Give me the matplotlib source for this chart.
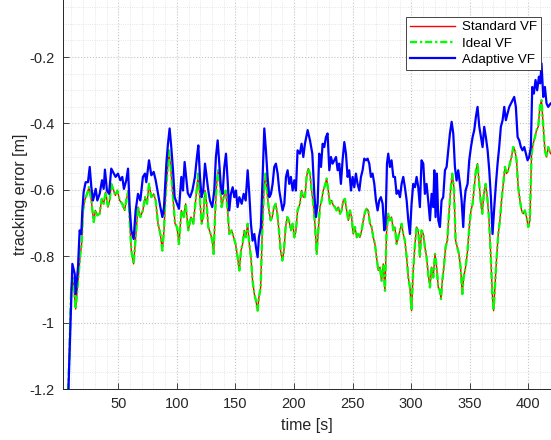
import numpy as np
import matplotlib
matplotlib.use('Agg')
import matplotlib.pyplot as plt
from matplotlib.ticker import MultipleLocator

plt.rcParams['font.family'] = ['Liberation Sans', 'DejaVu Sans']

# Adaptive VF (blue)
t_adaptive = [7, 10.8, 12.8, 13.6, 15.6, 17.0, 18.4, 19.3, 20.4, 22.1,
              24.1, 25.6, 27.0, 28.4, 30.7, 32.1, 34.1, 36.1, 37.5, 38.6,
              40.3, 42.1, 44.0, 45.5, 47.7, 49.7, 51.7, 53.4, 54.8, 56.8,
              58.3, 59.7, 61.1, 63.1, 64.8, 66.8, 68.8, 71.0, 72.8, 73.9,
              76.2, 78.2, 80.2, 81.9, 83.9, 85.9, 87.6, 89.0, 91.0, 92.4,
              93.8, 95.2, 96.7, 98.1, 100.1, 101.8, 103.8, 105.2, 106.6, 109.3,
              111.2, 113.2, 115.4, 117.1, 118.3, 119.7, 121.1, 122.5, 124.0, 125.4,
              126.8, 128.2, 130.2, 131.9, 133.3, 134.8, 136.2, 137.6, 139.0, 140.5,
              141.9, 143.3, 144.7, 146.1, 147.6, 149.0, 150.4, 151.8, 153.3, 155.3,
              157.0, 158.7, 160.4, 161.8, 163.2, 164.6, 166.1, 167.5, 168.9, 170.0,
              171.7, 173.2, 174.6, 176.0, 177.4, 178.9, 180.3, 181.7, 183.1, 184.5,
              186.0, 187.4, 188.8, 190.2, 191.7, 193.1, 194.5, 195.9, 197.3, 198.8,
              200.2, 201.6, 203.0, 205.0, 206.4, 207.9,
              209.3, 211.6, 213.6, 215.6, 217.3, 218.7, 220.1, 221.5, 223.0, 224.4,
              225.8, 227.2, 228.6, 230.1, 231.5, 232.9, 234.3, 235.8, 237.2, 238.6,
              240.0, 241.4, 242.9, 244.3, 245.7, 247.1, 248.6, 250.0, 251.4, 252.8,
              254.2, 255.7, 257.1, 258.5, 259.9, 261.4, 262.8, 264.2, 265.6, 267.0,
              268.5, 269.9, 271.3, 272.7, 274.1, 275.6, 277.0, 278.1, 279.3, 280.4,
              281.8, 283.2, 284.7, 286.1, 287.5, 288.9, 290.4, 291.8, 293.2, 294.6,
              296.1, 297.5, 298.9, 300.3, 301.7, 303.2, 304.6, 306.0, 307.4, 308.8,
              310.3,
              311.7, 313.1, 314.5, 316.0, 317.4, 318.8, 319.7, 320.8, 321.9, 323.1,
              324.5, 325.9, 327.3, 328.8, 330.2, 331.6, 333.0, 334.5, 335.9, 337.3,
              338.7, 340.1, 341.6, 343.0, 344.4, 345.3, 346.4, 348.1, 349.5, 351.0,
              352.4, 353.8, 355.2, 356.6, 358.1, 359.5, 360.9, 362.3, 363.7, 365.2,
              366.6, 368.0, 369.4, 370.9, 372.3, 373.7, 375.1, 376.5, 378.0, 379.4,
              380.8, 382.2, 383.7, 385.1, 386.5, 387.9, 389.3, 390.8, 392.2, 393.6,
              395.0, 396.5, 397.9, 399.3, 400.7, 402.1, 403.3, 404.7, 406.1, 407.5,
              409.0, 410.1, 411.2, 412.7, 414.1, 415.5, 416.9, 418.9]
adaptive_vf = [-1.25, -0.823, -0.853, -0.914, -0.833, -0.722, -0.733, -0.662, -0.607, -0.577,
               -0.577, -0.531, -0.592, -0.632, -0.597, -0.632, -0.612, -0.571, -0.597, -0.539,
               -0.602, -0.612, -0.536, -0.546, -0.561, -0.551, -0.571, -0.561, -0.597, -0.571,
               -0.536, -0.652, -0.722, -0.748, -0.662, -0.612, -0.632, -0.561, -0.551, -0.577,
               -0.511, -0.556, -0.546, -0.571, -0.612, -0.652, -0.682, -0.652, -0.521, -0.461,
               -0.415, -0.471, -0.541, -0.622, -0.642, -0.657, -0.561, -0.602, -0.516, -0.61,
               -0.622, -0.602, -0.561, -0.501, -0.466, -0.561, -0.622, -0.602, -0.521, -0.561,
               -0.602, -0.632, -0.652, -0.602, -0.501, -0.451, -0.521, -0.592, -0.612, -0.531,
               -0.491, -0.571, -0.662, -0.612, -0.592, -0.622, -0.602, -0.652, -0.622, -0.642,
               -0.612, -0.632, -0.541, -0.612, -0.702, -0.753, -0.733, -0.773, -0.803, -0.743,
               -0.712, -0.561, -0.415, -0.481, -0.561, -0.622, -0.612, -0.582, -0.531, -0.521,
               -0.551, -0.602, -0.632, -0.662, -0.642, -0.561, -0.541, -0.582, -0.561, -0.602,
               -0.571, -0.602, -0.481, -0.491, -0.461, -0.501,
               -0.461, -0.420, -0.451, -0.491, -0.612, -0.682, -0.642, -0.491, -0.531, -0.461,
               -0.471, -0.441, -0.430, -0.541, -0.501, -0.521, -0.511, -0.501, -0.541, -0.521,
               -0.582, -0.511, -0.456, -0.491, -0.561, -0.541, -0.602, -0.561, -0.592, -0.551,
               -0.582, -0.602, -0.561, -0.541, -0.506, -0.511, -0.506, -0.521, -0.561, -0.551,
               -0.582, -0.632, -0.662, -0.632, -0.622, -0.642, -0.722, -0.702, -0.521, -0.491,
               -0.531, -0.511, -0.561, -0.561, -0.612, -0.602, -0.622, -0.582, -0.561, -0.592,
               -0.632, -0.692, -0.733, -0.642, -0.582, -0.592, -0.561, -0.592, -0.652, -0.511,
               -0.521,
               -0.612, -0.582, -0.632, -0.692, -0.612, -0.652, -0.541, -0.682, -0.551, -0.692,
               -0.712, -0.632, -0.622, -0.541, -0.531, -0.481, -0.431, -0.395, -0.431, -0.531,
               -0.572, -0.541, -0.582, -0.632, -0.712, -0.642, -0.602, -0.582, -0.511, -0.471,
               -0.441, -0.420, -0.380, -0.350, -0.410, -0.441, -0.471, -0.410, -0.441, -0.481,
               -0.541, -0.622, -0.733, -0.652, -0.582, -0.521, -0.471, -0.410, -0.390, -0.350,
               -0.390, -0.370, -0.350, -0.340, -0.330, -0.320, -0.350, -0.441, -0.451, -0.471,
               -0.481, -0.471, -0.491, -0.511, -0.501, -0.471, -0.290, -0.310, -0.269, -0.300,
               -0.259, -0.279, -0.219, -0.320, -0.290, -0.340, -0.350, -0.340]

# Standard VF (red) and Ideal VF (green) lie on top of each other
t_standard = [7, 9.8, 11.3, 13.6, 15.6, 17.6, 18.7, 19.9, 21.3, 23.3,
              25.0, 27.0, 29.0, 30.4, 32.1, 34.1, 35.8, 37.5, 39.2, 41.2,
              42.6, 44.0, 45.5, 47.5, 49.2, 51.2, 53.4, 55.4, 56.8, 58.5,
              59.7, 61.1, 63.1, 64.8, 66.8, 68.8, 71.0, 72.8, 74.5, 76.2,
              78.2, 80.2, 81.9, 83.9, 85.9, 87.6, 89.0, 90.4, 91.8, 93.2,
              94.7, 96.7, 98.4, 100.1, 101.8, 103.8, 105.8, 107.5,
              109.7, 112.0, 114.0, 115.4, 117.1, 118.3, 119.7, 121.1, 122.5, 124.0,
              125.4, 126.8, 128.8, 130.2, 131.4, 132.5, 133.9, 135.3, 136.8, 138.2,
              139.9, 141.6, 143.3, 144.7, 146.7, 148.4, 150.1, 151.8, 153.3, 154.7,
              156.1, 157.5, 158.9, 160.4, 161.8, 163.2, 164.6, 166.1, 167.5, 168.9,
              170.0, 171.5, 172.9, 174.3, 175.7, 177.1, 178.6, 180.0, 181.4, 182.8,
              184.3, 185.7, 187.1, 188.5, 190.0, 191.4, 192.8, 194.2, 195.6, 197.3,
              198.8, 200.2, 201.6, 203.0, 205.0, 206.4, 207.9,
              209.3, 210.7, 212.1, 213.6, 215.0, 216.4, 217.8, 219.3, 220.7, 222.1,
              223.5, 224.9, 226.4, 227.8, 229.2, 230.6, 232.0, 233.5, 234.9, 236.3,
              237.7, 239.2, 240.6, 242.0, 243.4, 244.9, 246.3, 247.7, 249.1, 250.5,
              252.0, 253.4, 254.8, 256.2, 257.7, 259.1, 260.5, 261.9, 263.3, 264.8,
              266.2, 267.6, 269.0, 270.4, 271.9, 273.3, 274.7, 276.1, 277.6, 279.0,
              280.4, 281.8, 283.2, 284.7, 286.1, 287.5, 288.9, 290.4, 291.8, 293.2,
              294.6, 296.1, 297.5, 298.9, 300.3, 301.7, 303.2, 304.6, 306.0, 307.4,
              308.8, 310.3,
              311.7, 313.1, 314.5, 316.0, 317.4, 318.8, 320.3, 321.7, 323.1, 324.5,
              325.4, 326.5, 327.9, 329.3, 330.8, 332.2, 333.6, 335.0, 336.4, 337.9,
              339.3, 340.7, 342.1, 343.6, 344.7, 346.4, 348.1, 349.5, 351.0, 352.4,
              353.8, 355.2, 356.6, 357.8, 359.2, 360.6, 362.0, 363.5, 364.9, 366.3,
              367.7, 369.2, 370.3, 371.4, 372.9, 374.3, 375.7, 377.1, 378.5, 380.0,
              381.4, 382.8, 384.2, 385.6, 387.1, 388.5, 389.9, 391.3, 392.8, 394.2,
              395.6, 397.0, 398.4, 399.9, 401.3, 402.7, 404.1, 405.6, 407.0, 408.4,
              409.8, 411.2, 412.7, 414.1, 415.5, 416.9, 418.9]
standard_vf = [-1.25, -0.894, -0.864, -0.959, -0.874, -0.793, -0.763, -0.662, -0.632, -0.612,
               -0.592, -0.632, -0.697, -0.662, -0.677, -0.672, -0.627, -0.642, -0.607, -0.652,
               -0.632, -0.582, -0.597, -0.617, -0.602, -0.632, -0.642, -0.662, -0.632, -0.602,
               -0.692, -0.783, -0.823, -0.743, -0.652, -0.682, -0.662, -0.622, -0.642, -0.582,
               -0.622, -0.612, -0.632, -0.702, -0.733, -0.783, -0.722, -0.612, -0.551, -0.481,
               -0.531, -0.622, -0.702, -0.712, -0.763, -0.662, -0.682, -0.642,
               -0.722, -0.682, -0.702, -0.652, -0.592, -0.551, -0.632, -0.702, -0.682, -0.602,
               -0.642, -0.712, -0.733, -0.753, -0.793, -0.682, -0.582, -0.541, -0.582, -0.652,
               -0.622, -0.602, -0.662, -0.733, -0.722, -0.743, -0.763, -0.803, -0.843, -0.783,
               -0.763, -0.722, -0.743, -0.702, -0.763, -0.803, -0.874, -0.914, -0.934, -0.964,
               -0.924, -0.894, -0.722, -0.602, -0.551, -0.612, -0.662, -0.692, -0.682, -0.652,
               -0.642, -0.672, -0.722, -0.783, -0.813, -0.783, -0.712, -0.682, -0.692, -0.722,
               -0.702, -0.743, -0.722, -0.662, -0.642, -0.602, -0.622,
               -0.622, -0.561, -0.536, -0.551, -0.602, -0.642, -0.702, -0.793, -0.722, -0.652,
               -0.632, -0.602, -0.587, -0.566, -0.602, -0.642, -0.632, -0.647, -0.652, -0.662,
               -0.652, -0.672, -0.662, -0.632, -0.627, -0.662, -0.692, -0.662, -0.682, -0.733,
               -0.712, -0.743, -0.733, -0.743, -0.722, -0.692, -0.667, -0.657, -0.662, -0.702,
               -0.712, -0.743, -0.763, -0.803, -0.843, -0.833, -0.874, -0.823, -0.904, -0.722,
               -0.672, -0.692, -0.682, -0.722, -0.712, -0.763, -0.743, -0.722, -0.702, -0.733,
               -0.753, -0.803, -0.864, -0.894, -0.964, -0.843, -0.763, -0.712, -0.722, -0.803,
               -0.722, -0.733,
               -0.773, -0.803, -0.853, -0.894, -0.833, -0.864, -0.793, -0.833, -0.894, -0.904,
               -0.929, -0.874, -0.833, -0.773, -0.753, -0.672, -0.602, -0.551, -0.592, -0.753,
               -0.773, -0.793, -0.833, -0.914, -0.864, -0.833, -0.783, -0.712, -0.662, -0.642,
               -0.592, -0.541, -0.521, -0.572, -0.632, -0.672, -0.612, -0.582, -0.622, -0.682,
               -0.783, -0.914, -0.964, -0.894, -0.803, -0.733, -0.692, -0.632, -0.582, -0.531,
               -0.551, -0.541, -0.521, -0.501, -0.471, -0.481, -0.511, -0.592, -0.632, -0.662,
               -0.672, -0.662, -0.682, -0.712, -0.692, -0.491, -0.461, -0.441, -0.420, -0.410,
               -0.350, -0.330, -0.410, -0.481, -0.501, -0.471, -0.491]
ideal_vf = standard_vf

x_ticks = [50, 100, 150, 200, 250, 300, 350, 400]
y_ticks = [-1.2, -1.0, -0.8, -0.6, -0.4, -0.2]
y_tick_labels = ['-1.2', '-1', '-0.8', '-0.6', '-0.4', '-0.2']

W, H = 551, 440
fig = plt.figure(figsize=(W / 100, H / 100), dpi=100)
ax = fig.add_axes([63 / W, 51 / H, (W - 63) / W, 389 / H])

ax.plot(t_standard, standard_vf, color='#ff0000', lw=1.0, label='Standard VF')
ax.plot(t_standard, ideal_vf, color='#00ff00', lw=1.7, ls=(0, (3, 1.2, 1, 1.2)),
        label='Ideal VF')
ax.plot(t_adaptive, adaptive_vf, color='#0000ff', lw=1.6, label='Adaptive VF')

ax.set_xlim(2.8, 419.3)
ax.set_ylim(-1.2, -0.028)
ax.set_xticks(x_ticks)
ax.set_yticks(y_ticks)
ax.set_yticklabels(y_tick_labels)
ax.xaxis.set_minor_locator(MultipleLocator(10))
ax.yaxis.set_minor_locator(MultipleLocator(0.05))

ax.grid(which='major', color='#c4c4c4', ls=':', lw=0.8)
ax.grid(which='minor', color='#dedede', ls=':', lw=0.6)
ax.set_axisbelow(True)

ax.tick_params(which='major', direction='in', length=4, width=0.6,
               colors='#262626', labelsize=10.5, pad=6)
ax.tick_params(which='minor', length=0)
for side in ['top', 'right']:
    ax.spines[side].set_visible(False)
for side in ['left', 'bottom']:
    ax.spines[side].set_color('#262626')
    ax.spines[side].set_linewidth(0.7)

ax.set_xlabel('time [s]', fontsize=11.5, color='#262626', labelpad=5)
ax.set_ylabel('tracking error [m]', fontsize=11.5, color='#262626', labelpad=1)

leg = ax.legend(loc='upper right', bbox_to_anchor=((541 - 63) / (W - 63), (389 - 17) / 389),
                fontsize=9.6, handlelength=3.4, labelspacing=0.3, borderpad=0.3,
                handletextpad=0.5, borderaxespad=0, fancybox=False, framealpha=1)
leg.get_frame().set_edgecolor('#262626')
leg.get_frame().set_linewidth(0.6)

fig.savefig('out.png', dpi=100)
